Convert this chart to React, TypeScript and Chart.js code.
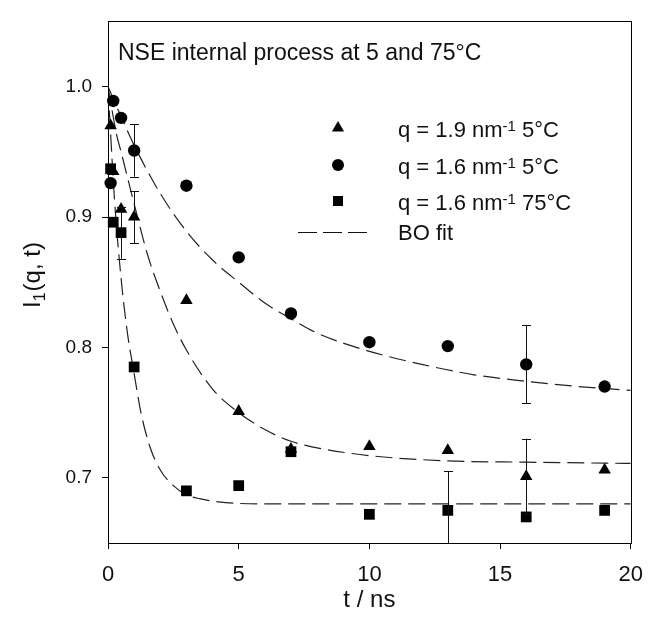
import React, { useEffect, useRef } from "react";
import { Chart, registerables } from "chart.js";

Chart.register(...registerables);

// ---- data ----
const timesNs = [0.1, 0.2, 0.5, 1, 3, 5, 7, 10, 13, 16, 19];
const triangleQ19_5C = [0.970, 0.935, 0.906, 0.900, 0.836, 0.751, 0.722, 0.724, 0.721, 0.701, 0.706];
const circleQ16_5C = [0.926, 0.989, 0.976, 0.951, 0.924, 0.869, 0.826, 0.804, 0.801, 0.787, 0.770];
const squareQ16_75C = [0.937, 0.896, 0.888, 0.785, 0.690, 0.694, 0.720, 0.672, 0.675, 0.670, 0.675];

const errTriangle = [null, null, null, 0.02, null, null, null, null, null, 0.029, null];
const errCircle = [null, null, null, 0.02, null, null, null, null, null, 0.030, null];
const errSquare = [null, null, 0.02, null, null, null, null, null, 0.03, null, null];

const fitCircleT = [0, 0.5, 1, 2, 3, 4, 5, 6, 7, 8, 10, 12, 14, 16, 18, 20];
const fitCircleI = [1.0, 0.977, 0.955, 0.918, 0.889, 0.867, 0.850, 0.834, 0.822, 0.811, 0.797, 0.787, 0.779, 0.774, 0.770, 0.767];
const fitTriangleT = [0, 0.33, 0.5, 1, 1.5, 2, 2.5, 3, 4, 5, 6, 7, 8, 10, 13, 16, 20];
const fitTriangleI = [1.0, 0.963, 0.950, 0.910, 0.872, 0.843, 0.818, 0.798, 0.768, 0.750, 0.737, 0.728, 0.723, 0.717, 0.713, 0.712, 0.711];
const fitSquareT = [0, 0.25, 0.5, 0.75, 1, 1.25, 1.6, 2, 2.5, 3, 3.5, 4.5, 6, 10, 20];
const fitSquareI = [1.0, 0.913, 0.853, 0.810, 0.780, 0.751, 0.724, 0.706, 0.694, 0.687, 0.684, 0.681, 0.680, 0.680, 0.680];

const xTicks = [0, 5, 10, 15, 20];
const yTicks = [0.7, 0.8, 0.9, 1.0];

const annotationText = "NSE internal process at 5 and 75°C";
const legendMain = ["q = 1.9 nm", "q = 1.6 nm", "q = 1.6 nm"];
const legendSup = ["-1", "-1", "-1"];
const legendTail = [" 5°C", " 5°C", " 75°C"];
const legendStyles = ["triangle", "circle", "rect"];
const fitLabel = "BO fit";
const xTitle = "t / ns";
const yTitleMain = "I";
const yTitleSub = "1";
const yTitleTail = "(q, t)";

const FONT = "'Liberation Sans', Arial, Helvetica, sans-serif";
const INK = "#111";

function toXY(xs: number[], ys: number[]) {
  return xs.map((x, i) => ({ x, y: ys[i] }));
}

const errorBarPlugin = {
  id: "errorBars",
  afterDatasetsDraw(chart: any) {
    const { ctx, chartArea, scales } = chart;
    const xs = scales.x;
    const ys = scales.y;
    const sets = [
      { vals: triangleQ19_5C, errs: errTriangle },
      { vals: circleQ16_5C, errs: errCircle },
      { vals: squareQ16_75C, errs: errSquare },
    ];
    ctx.save();
    ctx.beginPath();
    ctx.rect(chartArea.left, chartArea.top, chartArea.right - chartArea.left, chartArea.bottom - chartArea.top);
    ctx.clip();
    ctx.strokeStyle = INK;
    ctx.lineWidth = 1;
    for (const s of sets) {
      s.errs.forEach((e, i) => {
        if (e == null) return;
        const px = Math.round(xs.getPixelForValue(timesNs[i])) + 0.5;
        const yTop = ys.getPixelForValue(s.vals[i] + e);
        const yBot = ys.getPixelForValue(s.vals[i] - e);
        ctx.beginPath();
        ctx.moveTo(px, yTop);
        ctx.lineTo(px, yBot);
        ctx.moveTo(px - 4.5, Math.round(yTop) + 0.5);
        ctx.lineTo(px + 4.5, Math.round(yTop) + 0.5);
        ctx.moveTo(px - 4.5, Math.round(yBot) + 0.5);
        ctx.lineTo(px + 4.5, Math.round(yBot) + 0.5);
        ctx.stroke();
      });
    }
    ctx.restore();
  },
};

const decorPlugin = {
  id: "decor",
  afterDraw(chart: any) {
    const { ctx, chartArea } = chart;
    const { left, top, right, bottom } = chartArea;
    ctx.save();
    // frame
    ctx.strokeStyle = "#000";
    ctx.lineWidth = 1;
    ctx.strokeRect(Math.round(left) + 0.5, Math.round(top) + 0.5, Math.round(right - left), Math.round(bottom - top));

    ctx.fillStyle = INK;
    // annotation
    ctx.font = `23px ${FONT}`;
    ctx.textBaseline = "alphabetic";
    ctx.textAlign = "left";
    ctx.fillText(annotationText, 118, 60);

    // legend
    const markerX = 338;
    const textX = 398;
    const baselines = [137, 174, 210];
    legendMain.forEach((main, i) => {
      const b = baselines[i];
      const my = b - 9;
      ctx.fillStyle = "#000";
      ctx.beginPath();
      if (legendStyles[i] === "triangle") {
        const r = 7;
        ctx.moveTo(markerX, my - r);
        ctx.lineTo(markerX + r * 0.866, my + r * 0.5);
        ctx.lineTo(markerX - r * 0.866, my + r * 0.5);
        ctx.closePath();
      } else if (legendStyles[i] === "circle") {
        ctx.arc(markerX, my, 6, 0, Math.PI * 2);
      } else {
        ctx.rect(markerX - 5, my - 5, 10, 10);
      }
      ctx.fill();
      ctx.fillStyle = INK;
      ctx.font = `22px ${FONT}`;
      ctx.fillText(main, textX, b);
      let w = ctx.measureText(main).width;
      ctx.font = `15px ${FONT}`;
      ctx.fillText(legendSup[i], textX + w, b - 6);
      w += ctx.measureText(legendSup[i]).width;
      ctx.font = `22px ${FONT}`;
      ctx.fillText(legendTail[i], textX + w, b);
    });
    // fit legend
    ctx.strokeStyle = INK;
    ctx.lineWidth = 1;
    ctx.setLineDash([19, 6]);
    ctx.beginPath();
    ctx.moveTo(298, 232.5);
    ctx.lineTo(371, 232.5);
    ctx.stroke();
    ctx.setLineDash([]);
    ctx.font = `22px ${FONT}`;
    ctx.fillText(fitLabel, textX, 240);

    // x title
    ctx.font = `24px ${FONT}`;
    ctx.textAlign = "center";
    ctx.textBaseline = "middle";
    ctx.fillText(xTitle, (left + right) / 2, 600);

    // y title (rotated, with subscript)
    ctx.save();
    ctx.translate(32, 275);
    ctx.rotate(-Math.PI / 2);
    ctx.textAlign = "left";
    ctx.textBaseline = "alphabetic";
    ctx.font = `24px ${FONT}`;
    const wMain = ctx.measureText(yTitleMain).width;
    ctx.font = `16px ${FONT}`;
    const wSub = ctx.measureText(yTitleSub).width;
    ctx.font = `24px ${FONT}`;
    const wTail = ctx.measureText(yTitleTail).width;
    const total = wMain + wSub + 1 + wTail;
    let cx = -total / 2;
    const base = 8;
    ctx.fillText(yTitleMain, cx, base);
    cx += wMain;
    ctx.font = `16px ${FONT}`;
    ctx.fillText(yTitleSub, cx, base + 5);
    cx += wSub + 1;
    ctx.font = `24px ${FONT}`;
    ctx.fillText(yTitleTail, cx, base);
    ctx.restore();

    ctx.restore();
  },
};

export default function App() {
  const canvasRef = useRef<HTMLCanvasElement | null>(null);

  useEffect(() => {
    document.body.style.margin = "0";
    document.body.style.overflow = "hidden";
    const canvas = canvasRef.current;
    if (!canvas) return;

    const pointBase = {
      showLine: false,
      backgroundColor: "#000",
      borderColor: "#000",
      borderWidth: 0,
      clip: false as any,
    };
    const fitBase = {
      showLine: true,
      borderColor: "#222",
      borderWidth: 1.2,
      borderDash: [17, 7],
      pointRadius: 0,
      cubicInterpolationMode: "monotone" as const,
      fill: false,
    };

    const chart = new Chart(canvas, {
      type: "scatter",
      data: {
        datasets: [
          { ...pointBase, label: "q = 1.6 nm-1 75°C", data: toXY(timesNs, squareQ16_75C), pointStyle: "rect", pointRadius: 7.6 },
          { ...pointBase, label: "q = 1.6 nm-1 5°C", data: toXY(timesNs, circleQ16_5C), pointStyle: "circle", pointRadius: 6.2 },
          { ...pointBase, label: "q = 1.9 nm-1 5°C", data: toXY(timesNs, triangleQ19_5C), pointStyle: "triangle", pointRadius: 7.2 },
          { ...fitBase, label: "fit circle", data: toXY(fitCircleT, fitCircleI) },
          { ...fitBase, label: "fit triangle", data: toXY(fitTriangleT, fitTriangleI) },
          { ...fitBase, label: "fit square", data: toXY(fitSquareT, fitSquareI) },
        ] as any,
      },
      options: {
        animation: false,
        responsive: false,
        maintainAspectRatio: false,
        events: [],
        layout: { padding: { left: 0, right: 19, top: 13, bottom: 0 } },
        plugins: {
          legend: { display: false },
          tooltip: { enabled: false },
        },
        scales: {
          x: {
            type: "linear",
            min: 0,
            max: 20,
            afterBuildTicks: (scale: any) => {
              scale.ticks = xTicks.map((v) => ({ value: v }));
            },
            afterFit: (scale: any) => {
              scale.height = 81;
            },
            border: { display: false },
            grid: { drawOnChartArea: false, drawTicks: true, tickLength: 6, color: "#000", tickColor: "#000", lineWidth: 1 },
            ticks: {
              color: INK,
              font: { family: FONT, size: 22 },
              padding: 13,
              maxRotation: 0,
              autoSkip: false,
              callback: (v: any) => String(v),
            },
          },
          y: {
            type: "linear",
            min: 0.65,
            max: 1.05,
            afterBuildTicks: (scale: any) => {
              scale.ticks = yTicks.map((v) => ({ value: v }));
            },
            afterFit: (scale: any) => {
              scale.width = 108;
            },
            border: { display: false },
            grid: { drawOnChartArea: false, drawTicks: true, tickLength: 6, color: "#000", tickColor: "#000", lineWidth: 1 },
            ticks: {
              color: INK,
              font: { family: FONT, size: 19 },
              padding: 10,
              autoSkip: false,
              callback: (v: any) => Number(v).toFixed(1),
            },
          },
        },
      },
      plugins: [errorBarPlugin, decorPlugin],
    } as any);

    return () => {
      chart.destroy();
    };
  }, []);

  return (
    <div style={{ width: 656, height: 624, background: "#fff" }}>
      <canvas ref={canvasRef} width={656} height={624} style={{ display: "block", width: 656, height: 624 }} />
    </div>
  );
}
